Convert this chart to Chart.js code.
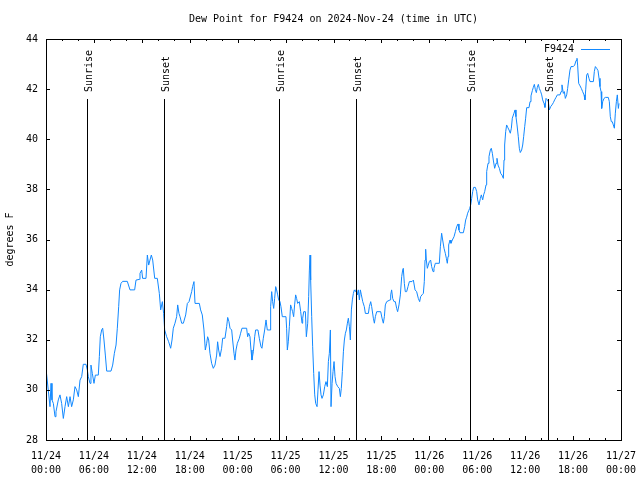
<!DOCTYPE html>
<html>
<head>
<meta charset="utf-8">
<script src="https://cdn.jsdelivr.net/npm/chart.js@4/dist/chart.umd.min.js"></script>
<style>
  html, body { margin: 0; padding: 0; background: #fff; }
</style>
</head>
<body>
<canvas id="dewChart" width="640" height="480"></canvas>
<script>
const chartTitle = "Dew Point for F9424 on 2024-Nov-24 (time in UTC)";
const stationName = "F9424";
const yAxisTitle = "degrees F";

// hours since 2024-11-24 00:00 UTC
const hours = [
  0.04, 0.50, 0.63, 0.75, 0.92, 1.13, 1.25, 1.54, 1.75, 1.96, 2.17, 2.38, 2.59, 2.80, 3.01, 3.21,
  3.42, 3.63, 3.84, 4.05, 4.26, 4.47, 4.67, 5.01, 5.18, 5.30, 5.51, 5.63, 5.80, 6.01, 6.18, 6.55,
  6.68, 6.80, 6.97, 7.10, 7.26, 7.43, 7.60, 8.14, 8.35, 8.56, 8.77, 8.93, 9.10, 9.22, 9.39, 9.60,
  10.18, 10.52, 11.10, 11.27, 11.69, 11.77, 11.98, 12.10, 12.52, 12.69, 12.86, 13.02, 13.19, 13.36,
  13.61, 13.94, 14.19, 14.36, 14.57, 14.73, 14.86, 15.11, 15.36, 15.61, 15.78, 15.94, 16.15, 16.36,
  16.49, 16.65, 16.78, 16.99, 17.20, 17.49, 17.70, 17.91, 18.24, 18.36, 18.53, 18.66, 19.20, 19.36,
  19.57, 19.78, 19.95, 20.12, 20.24, 20.37, 20.53, 20.74, 20.95, 21.16, 21.37, 21.49, 21.62, 21.79,
  21.99, 22.12, 22.41, 22.62, 22.75, 22.91, 23.04, 23.25, 23.37, 23.54, 23.66, 23.79, 23.96, 24.21,
  24.37, 24.54, 25.12, 25.25, 25.38, 25.54, 25.67, 25.79, 25.96, 26.13, 26.25, 26.54, 26.71, 26.92,
  27.04, 27.21, 27.38, 27.55, 27.71, 28.05, 28.13, 28.26, 28.38, 28.51, 28.63, 28.76, 28.88, 29.01,
  29.13, 29.30, 29.42, 29.59, 30.05, 30.13, 30.22, 30.34, 30.47, 30.63, 30.76, 30.88, 31.01, 31.13,
  31.26, 31.38, 31.51, 31.72, 31.89, 32.06, 32.14, 32.27, 32.48, 32.60, 32.77, 32.89, 32.98, 33.06,
  33.14, 33.27, 33.39, 33.52, 33.65, 33.77, 33.94, 34.06, 34.19, 34.31, 34.44, 34.56, 34.73, 34.90,
  35.06, 35.23, 35.36, 35.48, 35.61, 35.69, 35.82, 35.94, 36.07, 36.19, 36.32, 36.53, 36.73, 36.86,
  36.98, 37.11, 37.24, 37.36, 37.49, 37.61, 37.74, 37.86, 37.99, 38.11, 38.24, 38.36, 38.49, 38.61,
  38.74, 38.86, 38.99, 39.11, 39.24, 39.36, 39.49, 39.66, 39.86, 39.99, 40.37, 40.49, 40.66, 40.78,
  40.99, 41.12, 41.24, 41.41, 41.91, 42.08, 42.24, 42.37, 42.49, 42.66, 43.08, 43.16, 43.28, 43.41,
  43.58, 43.74, 43.91, 44.03, 44.20, 44.37, 44.54, 44.66, 44.74, 44.87, 44.99, 45.16, 45.33, 45.50,
  45.83, 46.00, 46.21, 46.41, 46.62, 46.79, 46.91, 47.08, 47.25, 47.37, 47.46, 47.54, 47.62, 47.75,
  47.87, 48.00, 48.16, 48.29, 48.46, 48.58, 48.75, 49.25, 49.38, 49.54, 49.67, 49.84, 50.00, 50.13,
  50.25, 50.34, 50.42, 50.59, 50.71, 50.88, 51.09, 51.26, 51.42, 51.59, 51.71, 51.84, 52.26, 52.42,
  52.55, 52.67, 52.80, 52.93, 53.05, 53.18, 53.30, 53.43, 53.55, 53.76, 53.93, 54.05, 54.22, 54.39,
  54.51, 54.68, 54.80, 54.93, 55.10, 55.18, 55.35, 55.47, 55.64, 55.76, 55.89, 56.01, 56.18, 56.35,
  56.47, 56.60, 56.77, 56.93, 57.10, 57.27, 57.35, 57.43, 57.56, 57.68, 57.81, 57.98, 58.14, 58.27,
  58.39, 58.60, 58.73, 58.85, 58.98, 59.14, 59.27, 59.39, 59.56, 59.69, 59.81, 59.94, 60.06, 60.19,
  60.48, 60.61, 60.73, 60.90, 61.02, 61.15, 61.27, 61.40, 61.52, 61.65, 61.77, 61.94, 62.07, 62.19,
  62.36, 62.48, 62.61, 62.78, 62.90, 63.03, 63.19, 63.36, 63.53, 63.69, 63.86, 64.03, 64.36, 64.49,
  64.61, 64.78, 64.91, 65.03, 65.20, 65.32, 65.45, 65.61, 65.74, 66.03, 66.20, 66.37, 66.49, 66.57,
  66.70, 66.87, 67.03, 67.20, 67.37, 67.49, 67.58, 67.70, 67.83, 67.99, 68.12, 68.54, 68.66, 68.79,
  68.95, 69.12, 69.25, 69.37, 69.50, 69.58, 69.71, 69.87, 70.04, 70.41, 70.54, 70.66, 70.79, 70.91,
  71.04, 71.17, 71.29, 71.42, 71.54, 71.67, 71.75
];

const dewPoint = [
  30.73, 29.33, 30.26, 29.60, 29.46, 28.93, 29.13, 29.60, 29.80, 29.46, 28.86, 29.33, 29.73, 29.33, 29.73, 29.33,
  29.60, 30.13, 30.00, 29.73, 30.39, 30.53, 31.02, 31.02, 30.79, 30.53, 30.26, 30.99, 30.66, 30.26, 30.59, 30.59,
  31.33, 32.12, 32.39, 32.46, 31.99, 31.39, 30.75, 30.75, 30.99, 31.46, 31.79, 32.46, 33.32, 33.99, 34.25, 34.33,
  34.33, 33.99, 33.99, 34.38, 34.41, 34.65, 34.78, 34.45, 34.45, 35.38, 34.98, 35.18, 35.38, 35.18,
  34.45, 34.45, 33.85, 33.19, 33.52, 33.05, 32.39, 32.12, 31.92, 31.66, 31.99, 32.46, 32.66, 32.92,
  33.39, 33.05, 32.92, 32.66, 32.66, 32.99, 33.45, 33.52, 33.92, 34.12, 34.32, 33.45, 33.45, 33.19,
  32.99, 32.39, 31.59, 31.86, 32.12, 31.99, 31.46, 31.06, 30.86, 30.99, 31.39, 31.92, 31.59, 31.33,
  31.66, 32.06, 32.06, 32.52, 32.89, 32.72, 32.46, 32.39, 31.99, 31.46, 31.19, 31.59, 31.86, 32.06,
  32.26, 32.46, 32.46, 32.12, 32.26, 32.12, 31.59, 31.19, 31.52, 32.12, 32.39, 32.39, 32.06, 31.72,
  31.66, 32.06, 32.39, 32.79, 32.39, 32.39, 33.32, 33.92, 33.52, 33.25, 33.65, 34.12, 33.99, 33.79,
  33.59, 33.52, 33.32, 32.92, 32.92, 32.46, 31.59, 31.92, 32.52, 33.39, 33.25, 33.12, 32.92, 33.39,
  33.79, 33.65, 33.45, 33.52, 33.12, 32.66, 32.86, 33.12, 33.12, 32.12, 32.66, 33.72, 34.78, 35.38,
  34.38, 32.92, 31.72, 30.66, 29.80, 29.46, 29.33, 30.00, 30.73, 30.19, 29.80, 29.66, 29.80, 30.13,
  30.33, 30.13, 31.13, 31.46, 32.39, 29.33, 30.26, 30.73, 31.13, 30.53, 30.26, 30.13, 30.06, 29.73,
  30.06, 30.73, 31.52, 31.99, 32.26, 32.39, 32.66, 32.86, 32.52, 31.99, 33.19, 33.59, 33.85, 33.99,
  33.92, 34.01, 33.79, 33.99, 33.59, 33.99, 33.79, 33.52, 33.32, 33.05, 33.05, 33.32, 33.52, 33.32,
  32.86, 32.66, 32.92, 33.12, 33.12, 32.86, 32.66, 32.92, 33.39, 33.52, 33.59, 33.79, 33.99, 33.65,
  33.52, 33.52, 33.25, 33.12, 33.39, 33.79, 34.52, 34.78, 34.85, 34.25, 33.92, 33.92, 34.12, 34.32,
  34.32, 34.38, 33.99, 33.92, 33.65, 33.52, 33.72, 33.79, 33.85, 34.32, 35.18, 35.61, 35.18, 34.85,
  34.98, 35.12, 35.18, 34.92, 34.72, 34.85, 35.05, 35.05, 35.71, 36.25, 35.98, 35.65, 35.45, 35.25,
  35.05, 35.32, 35.78, 35.98, 35.85, 35.98, 36.11, 36.31, 36.51, 36.62, 36.38, 36.27, 36.27, 36.51,
  36.78, 36.89, 37.05, 37.15, 37.24, 37.38, 37.64, 37.91, 38.08, 38.08, 37.91, 37.58, 37.38, 37.64,
  37.78, 37.58, 37.78, 37.91, 38.18, 38.71, 39.04, 39.31, 39.57, 39.64, 39.44, 39.17, 38.84, 39.04,
  39.24, 38.97, 38.84, 38.64, 38.57, 38.44, 39.17, 39.77, 40.30, 40.57, 40.48, 40.37, 40.24, 40.44,
  40.84, 41.04, 41.17, 40.90, 40.57, 40.10, 39.64, 39.47, 39.57, 39.77, 40.10, 40.50, 40.84, 41.26,
  41.26, 41.50, 41.73, 41.94, 42.07, 42.19, 41.99, 41.86, 42.07, 42.19, 42.03, 41.90, 41.77, 41.57,
  41.43, 41.27, 41.63, 41.57, 41.50, 41.17, 41.30, 41.37, 41.46, 41.57, 41.67, 41.77, 41.77, 41.90,
  42.17, 41.83, 41.90, 41.63, 41.77, 42.03, 42.37, 42.76, 42.90, 42.90, 42.96, 43.14, 43.23, 42.96,
  42.23, 42.13, 42.03, 41.90, 41.77, 41.57, 41.97, 42.56, 42.63, 42.43, 42.30, 42.30, 42.70, 42.90,
  42.83, 42.74, 42.43, 42.10, 41.90, 41.23, 41.50, 41.63, 41.67, 41.67, 41.50, 40.90, 40.70, 40.70,
  40.57, 40.44, 41.04, 41.50, 41.77, 41.23, 41.43
];

const sunHours = [5.18, 14.73, 29.18, 38.86, 53.13, 62.90];
const sunLabels = ["Sunrise", "Sunset", "Sunrise", "Sunset", "Sunrise", "Sunset"];

const xMajorStep = 6;
const xMinorStep = 2;
const yMin = 28, yMax = 44, yStep = 2;

const FONT = "DejaVu Sans Mono";
const lineColor = "#1188ff";

function tickLabel(h) {
  const day = 24 + Math.floor(h / 24);
  const hr = h % 24;
  return ["11/" + day, String(hr).padStart(2, "0") + ":00"];
}

// gnuplot-ish frame: border box, inward ticks, sun markers, legend, titles
const gnuFrame = {
  id: "gnuFrame",
  afterDraw(chart) {
    const ctx = chart.ctx;
    const a = chart.chartArea;
    const xs = chart.scales.x, ys = chart.scales.y;
    ctx.save();
    ctx.strokeStyle = "#000";
    ctx.lineWidth = 1;

    // ticks
    ctx.beginPath();
    for (let h = 0; h <= 72; h += xMinorStep) {
      const px = Math.round(xs.getPixelForValue(h)) + 0.5;
      const len = h % xMajorStep === 0 ? 4 : 2;
      ctx.moveTo(px, a.bottom); ctx.lineTo(px, a.bottom - len);
      ctx.moveTo(px, a.top); ctx.lineTo(px, a.top + len);
    }
    for (let v = yMin; v <= yMax; v += yStep) {
      const py = Math.round(ys.getPixelForValue(v)) + 0.5;
      ctx.moveTo(a.left, py); ctx.lineTo(a.left + 4, py);
      ctx.moveTo(a.right, py); ctx.lineTo(a.right - 4, py);
    }
    ctx.stroke();

    // border
    ctx.strokeRect(Math.round(a.left) + 0.5, Math.round(a.top) + 0.5,
      Math.round(a.right - a.left), Math.round(a.bottom - a.top));

    // sunrise / sunset
    ctx.font = "10px '" + FONT + "'";
    ctx.fillStyle = "#000";
    sunHours.forEach((h, i) => {
      const px = Math.round(xs.getPixelForValue(h)) + 0.5;
      ctx.beginPath();
      ctx.moveTo(px, a.top + 60);
      ctx.lineTo(px, a.bottom);
      ctx.stroke();
      ctx.save();
      ctx.translate(px + 4, a.top + 53);
      ctx.rotate(-Math.PI / 2);
      ctx.textAlign = "left";
      ctx.textBaseline = "alphabetic";
      ctx.fillText(sunLabels[i], 0, 0);
      ctx.restore();
    });

    // legend
    ctx.textAlign = "right";
    ctx.textBaseline = "middle";
    ctx.fillText(stationName, a.right - 47, a.top + 10);
    ctx.strokeStyle = lineColor;
    ctx.beginPath();
    ctx.moveTo(a.right - 40, a.top + 10.5);
    ctx.lineTo(a.right - 11, a.top + 10.5);
    ctx.stroke();

    // title
    ctx.textAlign = "center";
    ctx.fillText(chartTitle, (a.left + a.right) / 2, 19);

    // y axis title
    ctx.save();
    ctx.translate(10, (a.top + a.bottom) / 2);
    ctx.rotate(-Math.PI / 2);
    ctx.fillText(yAxisTitle, 0, 0);
    ctx.restore();

    ctx.restore();
  }
};

new Chart(document.getElementById("dewChart"), {
  type: "line",
  data: {
    datasets: [{
      label: stationName,
      data: hours.map((h, i) => ({ x: h, y: dewPoint[i] })),
      borderColor: lineColor,
      borderWidth: 1,
      pointRadius: 0,
      tension: 0,
      fill: false
    }]
  },
  options: {
    responsive: false,
    animation: false,
    devicePixelRatio: 1,
    layout: { padding: { top: 39, right: 19, left: 0, bottom: 0 } },
    plugins: {
      legend: { display: false },
      title: { display: false },
      tooltip: { enabled: false }
    },
    scales: {
      x: {
        type: "linear",
        min: 0,
        max: 72,
        grid: { display: false, drawTicks: false },
        border: { display: false },
        ticks: {
          stepSize: xMajorStep,
          autoSkip: false,
          maxRotation: 0,
          padding: 9,
          color: "#000",
          font: { family: FONT, size: 10, lineHeight: 1.4 },
          callback: (v) => tickLabel(v)
        },
        afterFit: (s) => { s.height = 40; s.paddingLeft = 0; s.paddingRight = 0; }
      },
      y: {
        min: yMin,
        max: yMax,
        grid: { display: false, drawTicks: false },
        border: { display: false },
        ticks: {
          stepSize: yStep,
          padding: 8,
          color: "#000",
          font: { family: FONT, size: 10 }
        },
        afterFit: (s) => { s.width = 46; s.paddingTop = 0; s.paddingBottom = 0; }
      }
    }
  },
  plugins: [gnuFrame]
});
</script>
</body>
</html>
